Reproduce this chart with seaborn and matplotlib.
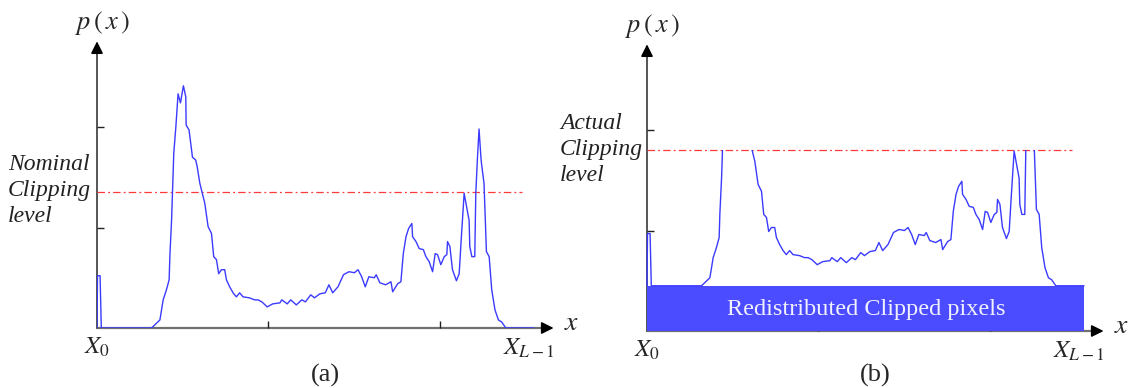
import matplotlib
matplotlib.use("Agg")
import matplotlib.pyplot as plt
from matplotlib.patches import Rectangle
import numpy as np
import seaborn as sns

# ---- data ------------------------------------------------------------------
GRAY = [0, 0.3, 1.8, 2.5, 31.8, 36.7, 38.6, 40.5, 42.1, 42.5, 43.5, 44.8, 46.0, 47.3,
        48.7, 50.4, 51.8, 52.0, 53.7, 55.7, 57.6, 58.4, 60.0, 62.9,
        64.8, 66.8, 68.1, 69.7, 71.0, 72.6, 74.5, 75.5, 77.4, 79.4,
        81.3, 83.2, 85.2, 89.0, 91.9, 94.0, 96.2, 99.3, 102.5, 106.7,
        107.8, 111.0, 113.0, 116.3, 119.5, 121.6, 124.7, 126.9, 130.0, 133.2,
        135.3, 137.5, 140.6, 143.8, 147.0, 150.2, 152.3, 154.4, 156.5, 158.6,
        161.8, 162.9, 165.0, 168.4, 171.5, 172.5, 175.4, 177.3, 178.7, 180.3,
        181.8, 183.7, 184.1, 186.1, 188.0, 190.4, 191.9, 193.8, 195.8, 197.3,
        198.7, 200.6, 202.6, 204.1, 204.5, 205.9, 207.4, 209.7, 211.3, 212.6,
        214.2, 215.6, 217.1, 217.5, 218.7, 220.4, 221.0, 221.9, 222.9, 223.9,
        224.3, 225.8, 227.2, 228.8, 230.3, 232.2, 234.2, 236.1, 238.5, 255]
DENSITY = [0, 0.52, 0.52, 0, 0, 0.08, 0.28, 0.38, 0.48, 0.71, 1.07, 1.74, 2.00, 2.33,
           2.24, 2.41, 2.30, 2.02, 1.97, 1.70, 1.67, 1.61, 1.44, 1.24,
           1.01, 0.94, 0.71, 0.68, 0.54, 0.58, 0.58, 0.48, 0.41, 0.35,
           0.31, 0.35, 0.31, 0.30, 0.28, 0.28, 0.26, 0.21, 0.24, 0.25,
           0.28, 0.24, 0.28, 0.23, 0.28, 0.26, 0.33, 0.30, 0.34, 0.35,
           0.43, 0.35, 0.41, 0.53, 0.56, 0.55, 0.58, 0.51, 0.41, 0.51,
           0.50, 0.53, 0.45, 0.43, 0.46, 0.36, 0.44, 0.46, 0.74, 0.91,
           0.99, 1.04, 0.91, 0.86, 0.79, 0.78, 0.71, 0.66, 0.56, 0.74,
           0.73, 0.63, 0.71, 0.73, 0.86, 0.81, 0.58, 0.47, 0.54, 0.91,
           1.34, 1.21, 1.07, 0.81, 0.71, 0.71, 1.34, 1.67, 1.98, 1.72,
           1.64, 1.44, 0.76, 0.71, 0.38, 0.18, 0.08, 0.06, 0, 0]
CLIP_NOMINAL = 1.35      # dash-dot level in (a)
REDIST = 0.45            # height of the redistributed block in (b)
CLIP_END = 248           # where the dash-dot line stops
L_MAX = 255
X_TICKS = [100, 200]
Y_TICKS = [1, 2]

# ---- styling ----------------------------------------------------------------
sns.set_theme(style="white")
plt.rcParams["font.family"] = ["Liberation Serif", "DejaVu Serif"]
plt.rcParams["mathtext.fontset"] = "stix"

BLUE = "#3b3bff"
FILL = "#4b4bff"
RED = "#ff3a3a"
AXIS_GREY = "#707070"
W, H = 1132, 388
X_TOP, Y_TOP = 268, 2.88


def setup_axes(ax):
    ax.set_xlim(0, 270)
    ax.set_ylim(0, 2.9)
    for s in ax.spines.values():
        s.set_visible(False)
    ax.set_xticks(X_TICKS)
    ax.set_yticks(Y_TICKS)
    ax.set_xticklabels([])
    ax.set_yticklabels([])
    ax.tick_params(axis="both", direction="in", length=5, width=1,
                   color="#222222", left=True, bottom=True)
    ax.grid(False)
    ax.patch.set_alpha(0)
    # axis lines with black arrow heads
    ax.plot([0, X_TOP - 4], [0, 0], color=AXIS_GREY, lw=1.6, clip_on=False, zorder=0.5)
    ax.plot([0, 0], [0, Y_TOP - 0.1], color="#555555", lw=1.4, clip_on=False, zorder=0.5)
    ax.annotate("", xy=(X_TOP, 0), xytext=(X_TOP - 8, 0),
                arrowprops=dict(arrowstyle="-|>", color="black", lw=1.2, mutation_scale=18),
                annotation_clip=False)
    ax.annotate("", xy=(0, Y_TOP), xytext=(0, Y_TOP - 0.15),
                arrowprops=dict(arrowstyle="-|>", color="black", lw=1.2, mutation_scale=18),
                annotation_clip=False)
    ax.text(3, 3.03, r"$p\,\left(\,x\,\right)$", fontsize=19, ha="center", va="center",
            clip_on=False)
    ax.text(0, -0.19, r"$X_{0}$", fontsize=18, ha="center", va="center", clip_on=False)
    ax.text(252, -0.2, r"$X_{L-1}$", fontsize=18, ha="center", va="center", clip_on=False)
    ax.text(277, 0.04, r"$x$", fontsize=20, ha="center", va="center", clip_on=False)


fig = plt.figure(figsize=(W / 100, H / 100), dpi=100)
ax_w = 270 * 1.714 / W
ax_h = 2.9 * 100.5 / H
ax_a = fig.add_axes([97 / W, (H - 328) / H, ax_w, ax_h])
ax_b = fig.add_axes([647 / W, (H - 331) / H, ax_w, ax_h])

# ---- (a) nominal clipping ---------------------------------------------------
setup_axes(ax_a)
sns.lineplot(x=GRAY, y=DENSITY, ax=ax_a, color=BLUE, lw=1.0,
             estimator=None, sort=False, zorder=3)
ax_a.plot([0, CLIP_END], [CLIP_NOMINAL, CLIP_NOMINAL], color=RED, lw=0.9,
          linestyle=(0, (6, 2.5, 1.5, 2.5)), zorder=2)

# ---- (b) actual clipping after redistribution --------------------------------
setup_axes(ax_b)
clip_actual = CLIP_NOMINAL + REDIST
ax_b.fill_between([0, L_MAX], 0, REDIST, color=FILL, lw=0, zorder=1)
shifted = np.array(DENSITY) + REDIST
sns.lineplot(x=GRAY, y=shifted, ax=ax_b, color=BLUE, lw=1.0,
             estimator=None, sort=False, zorder=3)
clip_box = Rectangle((-10, -1), 300, clip_actual + 1, transform=ax_b.transData)
ax_b.lines[-1].set_clip_path(clip_box)
ax_b.plot([0, CLIP_END], [clip_actual, clip_actual], color=RED, lw=0.9,
          linestyle=(0, (6, 2.5, 1.5, 2.5)), zorder=2)
ax_b.text(128, 0.21, "Redistributed Clipped pixels", color="#f0f0ff", fontsize=17.5,
          ha="center", va="center", zorder=4)

# ---- side notes and panel captions ------------------------------------------
fig.text(8 / W, 1 - 154 / H, "Nominal\nClipping\nlevel", fontsize=17, style="italic",
         ha="left", va="top", linespacing=1.3, color="#222222")
fig.text(560 / W, 1 - 113 / H, "Actual\nClipping\nlevel", fontsize=17, style="italic",
         ha="left", va="top", linespacing=1.3, color="#222222")
fig.text(325 / W, 1 - 375 / H, "(a)", fontsize=19, ha="center", va="center")
fig.text(875 / W, 1 - 375 / H, "(b)", fontsize=19, ha="center", va="center")

fig.savefig("out.png", dpi=100, facecolor="white")
